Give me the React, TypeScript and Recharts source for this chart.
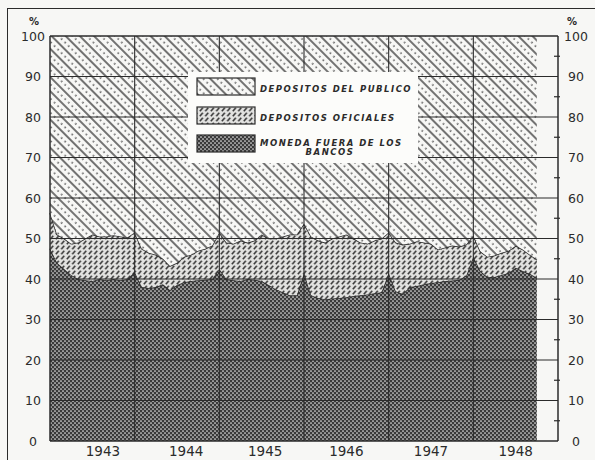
import React from "react";
import { ComposedChart, Area, Line, XAxis, YAxis, ReferenceLine, Legend } from "recharts";

// month index 0 = Jan 1943
const yearLabels = ["1943", "1944", "1945", "1946", "1947", "1948"];
const yearTickPos = [7.5, 19.3, 30.5, 42, 54, 66];
const yearBreaks = [12, 24, 36, 48, 60];
const pctTicks = [0, 5, 10, 15, 20, 25, 30, 35, 40, 45, 50, 55, 60, 65, 70, 75, 80, 85, 90, 95, 100];
const gridLevels = [10, 20, 30, 40, 50, 60, 70, 80, 90, 100];
const leftTicks = [0, 10, 20, 30, 40, 50, 60, 70, 80, 90, 100];

// moneda fuera de los bancos (% of total)
const monedaPct = [
  47.5, 44, 42.5, 41, 40, 39.7, 39.5, 40, 39.7, 40, 39.7, 40,
  41.7, 38, 37.8, 38, 38.7, 37.3, 38.5, 39.2, 39.5, 39.7, 39.8, 40,
  42.5, 40, 39.7, 39.5, 40, 39.8, 39.5, 38.5, 37.5, 36.7, 36, 36,
  41.5, 36, 35.3, 35, 35.2, 35.3, 35.5, 35.8, 36, 36.2, 36.5, 36.7,
  41.5, 37, 36.3, 38, 38.3, 38.7, 39, 39.2, 39.5, 39.6, 39.8, 40.8,
  45.5, 42, 40.5, 40.5, 41, 41.5, 42.8, 42, 41.3, 40.3,
];

// depositos oficiales (% of total)
const oficialesPct = [
  8.8, 7, 7.5, 7.7, 9, 10.3, 11.5, 10.5, 10.8, 10.8, 10.8, 10.3,
  9.8, 9.5, 8.7, 8, 6.3, 5.9, 5.5, 6.3, 6.5, 7.3, 7.7, 8.3,
  9, 9, 9, 10, 9, 9.7, 11.5, 11.5, 12.5, 13.8, 15, 15,
  12.2, 14.5, 14.2, 14, 14.8, 15.2, 15.5, 14.2, 13, 12.5, 13, 13.3,
  10, 12, 12.2, 10.7, 11, 10.3, 9.7, 8.1, 8.3, 8.7, 8.2, 7.7,
  5.2, 4.8, 5, 5.3, 5.5, 5.5, 5.4, 5.3, 4.7, 4.5,
];

const data = monedaPct.map((m, i) => ({
  month: i,
  moneda: m,
  oficiales: oficialesPct[i],
  publico: +(100 - m - oficialesPct[i]).toFixed(1),
}));

const INK = "#2b2b2b";
const PAPER = "#f7f7f5";
const FONT = "'DejaVu Sans', sans-serif";

function LeftTick(props: any) {
  const { x, y, payload } = props;
  return (
    <text x={x - 15} y={y} dy="0.36em" textAnchor="middle" fontSize={12.5} fill={INK} fontFamily={FONT}>
      {payload.value}
    </text>
  );
}

function RightTick(props: any) {
  const { x, y, payload } = props;
  if (payload.value % 10 !== 0) {
    return <line x1={x - 6} y1={y} x2={x} y2={y} stroke={INK} strokeWidth={1.2} />;
  }
  return (
    <text x={x + 16} y={y} dy="0.36em" textAnchor="middle" fontSize={12.5} fill={INK} fontFamily={FONT}>
      {payload.value}
    </text>
  );
}

function YearTick(props: any) {
  const { x, y, index } = props;
  return (
    <text x={x} y={y + 13} textAnchor="middle" fontSize={13.5} fill={INK} fontFamily={FONT}>
      {yearLabels[index]}
    </text>
  );
}

const legendText = {
  fontFamily: FONT,
  fontWeight: 700,
  fontStyle: "italic",
  fontSize: 8.5,
  letterSpacing: 1.5,
  fill: INK,
} as const;

function LegendBox() {
  return (
    <svg width={230} height={91} style={{ display: "block" }}>
      <rect x={0} y={0} width={230} height={91} fill="#fcfcfa" />
      <rect x={9} y={6} width={58} height={17} fill="url(#pubPat)" stroke={INK} strokeWidth={1.2} />
      <rect x={9} y={35} width={58} height={17} fill="url(#ofiPat)" stroke={INK} strokeWidth={1.2} />
      <rect x={9} y={63} width={58} height={17} fill="url(#monPat)" stroke={INK} strokeWidth={1.2} />
      <text x={72} y={19.5} {...legendText}>DEPOSITOS DEL PUBLICO</text>
      <text x={72} y={48.5} {...legendText}>DEPOSITOS OFICIALES</text>
      <text x={72} y={73.5} {...legendText}>MONEDA FUERA DE LOS</text>
      <text x={142} y={83} textAnchor="middle" {...legendText}>BANCOS</text>
    </svg>
  );
}

export default function App() {
  return (
    <div style={{ position: "absolute", left: 0, top: 0, width: 595, height: 460, background: PAPER, overflow: "hidden" }}>
      <div
        style={{
          position: "absolute",
          left: 7,
          top: 8,
          width: 600,
          height: 470,
          borderLeft: `1.5px solid ${INK}`,
          borderTop: `1.5px solid ${INK}`,
        }}
      />
      <div style={{ position: "absolute", left: 29, top: 16, fontFamily: FONT, fontSize: 10, fontWeight: 700, color: INK }}>%</div>
      <div style={{ position: "absolute", left: 567, top: 16, fontFamily: FONT, fontSize: 10, fontWeight: 700, color: INK }}>%</div>
      <div style={{ position: "absolute", left: 0, top: 0 }}>
        <ComposedChart width={595} height={460} data={data} margin={{ top: 36, right: 0, bottom: 0, left: 0 }}>
          <defs>
            <pattern id="pubPat" patternUnits="userSpaceOnUse" width={10} height={10} patternTransform="rotate(-45)">
              <rect width={10} height={10} fill={PAPER} />
              <line x1={1} y1={0} x2={1} y2={10} stroke={INK} strokeWidth={1.3} />
              <line x1={6} y1={0.5} x2={6} y2={10} stroke={INK} strokeWidth={1.3} strokeDasharray="1.6 3.4" />
            </pattern>
            <pattern id="ofiPat" patternUnits="userSpaceOnUse" width={5.5} height={5}>
              <rect width={5.5} height={5} fill="#e2e2e0" />
              <line x1={0.8} y1={4.3} x2={3.8} y2={0.7} stroke="#333333" strokeWidth={1.5} />
            </pattern>
            <pattern id="monPat" patternUnits="userSpaceOnUse" width={4} height={4}>
              <rect width={4} height={4} fill="#3a3a3a" />
              <circle cx={1} cy={1} r={0.85} fill="#e6e6e6" />
              <circle cx={3} cy={3} r={0.85} fill="#e6e6e6" />
            </pattern>
          </defs>
          <XAxis
            dataKey="month"
            type="number"
            domain={[0, 72]}
            ticks={yearTickPos}
            interval={0}
            tick={<YearTick />}
            tickLine={false}
            tickSize={0}
            axisLine={{ stroke: INK, strokeWidth: 1.5 }}
            height={19}
          />
          <YAxis
            yAxisId="left"
            type="number"
            domain={[0, 100]}
            ticks={leftTicks}
            interval={0}
            tick={<LeftTick />}
            tickLine={false}
            tickSize={0}
            axisLine={{ stroke: INK, strokeWidth: 1.5 }}
            width={50}
          />
          <YAxis
            yAxisId="right"
            orientation="right"
            type="number"
            domain={[0, 100]}
            ticks={pctTicks}
            interval={0}
            tick={<RightTick />}
            tickLine={false}
            tickSize={0}
            axisLine={{ stroke: INK, strokeWidth: 1.5 }}
            width={37}
          />
          <Area yAxisId="left" type="linear" dataKey="moneda" stackId="a" fill="url(#monPat)" fillOpacity={1} stroke={INK} strokeWidth={1.6} isAnimationActive={false} />
          <Area yAxisId="left" type="linear" dataKey="oficiales" stackId="a" fill="url(#ofiPat)" fillOpacity={1} stroke={INK} strokeWidth={1.6} isAnimationActive={false} />
          <Area yAxisId="left" type="linear" dataKey="publico" stackId="a" fill="url(#pubPat)" fillOpacity={1} stroke="none" isAnimationActive={false} />
          <Line yAxisId="right" type="linear" dataKey="publico" stroke="none" dot={false} activeDot={false} legendType="none" isAnimationActive={false} />
          {gridLevels.map((v) => (
            <ReferenceLine key={"h" + v} yAxisId="left" y={v} stroke={INK} strokeWidth={v === 100 ? 1.5 : 1.1} />
          ))}
          {yearBreaks.map((m) => (
            <ReferenceLine key={"v" + m} yAxisId="left" x={m} stroke={INK} strokeWidth={1.1} />
          ))}
          <Legend
            layout="vertical"
            align="center"
            verticalAlign="middle"
            wrapperStyle={{ left: 188, top: 72, width: 230, height: 91 }}
            content={() => <LegendBox />}
          />
        </ComposedChart>
      </div>
    </div>
  );
}
